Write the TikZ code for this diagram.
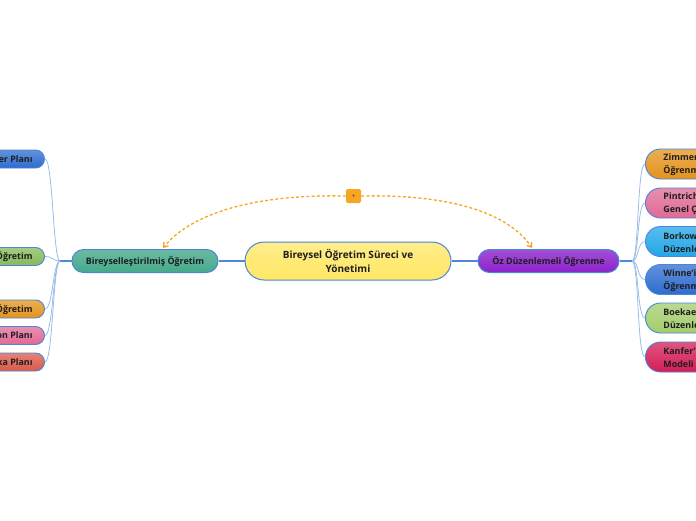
\documentclass[tikz,border=0pt]{standalone}
\usepackage{fontspec}
\setmainfont{Open Sans}
\usetikzlibrary{arrows.meta,calc}
\definecolor{bordc}{HTML}{4A86DB}
\definecolor{mainln}{HTML}{4D89DB}
\definecolor{childln}{HTML}{9BBCEB}
\definecolor{txt}{HTML}{1E1E1E}
\definecolor{dorange}{HTML}{F5A623}
\definecolor{cyel}{HTML}{FFE764}
\definecolor{cteal}{HTML}{45A98C}
\definecolor{cpurp}{HTML}{8B22CC}
\definecolor{cblue}{HTML}{2E6CCF}
\definecolor{cgreen}{HTML}{86B95A}
\definecolor{corange}{HTML}{E4931C}
\definecolor{cpink}{HTML}{E06A95}
\definecolor{cred}{HTML}{DA5A4A}
\definecolor{clblue}{HTML}{22A6E8}
\definecolor{clgreen}{HTML}{A3CD6C}
\definecolor{ccrim}{HTML}{D41C56}
\tikzset{
  x=1pt, y=-1pt,
  basefont/.style={font=\fontsize{8.9}{13}\selectfont\bfseries, text=txt},
  centralbox/.style={font=\fontsize{10}{14}\selectfont\bfseries, text=txt,
     draw=bordc, line width=1pt, rounded corners=19pt,
     minimum width=206pt, minimum height=38pt, align=center, inner sep=0pt,
     top color=#1!75!white, bottom color=#1},
  mainbox/.style={basefont, draw=bordc, line width=1pt, rounded corners=11.5pt,
     minimum height=23pt, inner sep=0pt, top color=#1!80!white, bottom color=#1},
  leafleft/.style={basefont, draw=bordc, line width=0.9pt, rounded corners=9pt,
     minimum height=18pt, inner ysep=0pt, inner xsep=12pt, anchor=east,
     top color=#1!75!white, bottom color=#1},
  leafright/.style={basefont, draw=bordc, line width=0.9pt, rounded corners=15pt,
     minimum height=30pt, inner ysep=0pt, inner xsep=18pt, anchor=west, align=left,
     top color=#1!75!white, bottom color=#1},
  mainline/.style={draw=mainln, line width=1.2pt},
  childline/.style={draw=childln, line width=0.8pt},
  dashline/.style={draw=dorange, line width=1.3pt, dash pattern=on 3pt off 2.2pt,
     -{Straight Barb[length=4pt,width=6pt]}},
  plusbox/.style={fill=dorange, rounded corners=2pt, minimum width=15pt,
     minimum height=14pt, inner sep=0pt, font=\fontsize{7}{7}\selectfont, text=txt!70!dorange}
}
\begin{document}
\begin{tikzpicture}
\useasboundingbox (0,0) rectangle (696,520);
\clip (0,0) rectangle (696,520);
% central and main nodes
\node[centralbox=cyel] (C) at (348,261) {Bireysel Öğretim Süreci ve\\Yönetimi};
\node[mainbox=cteal, minimum width=146pt] (L) at (145,261) {Bireyselleştirilmiş Öğretim};
\node[mainbox=cpurp, minimum width=141pt] (R) at (548.5,261) {Öz Düzenlemeli Öğrenme};
% left leaves
\node[leafleft=cblue]   (k1) at (45,159) {Keller Planı};
\node[leafleft=cgreen]  (k2) at (45,256.5) {Programlı Öğretim};
\node[leafleft=corange] (k3) at (45,309) {Bilgisayar Destekli Öğretim};
\node[leafleft=cpink]   (k4) at (45,335.5) {Dalton Planı};
\node[leafleft=cred]    (k5) at (45,362) {Winnetka Planı};
% right leaves
\node[leafright=corange] (z1) at (645,164) {Zimmerman'ın Öz Düzenlemeli\\Öğrenme Modeli};
\node[leafright=cpink]   (z2) at (645,203) {Pintrich'in Öz Düzenlemeli Öğrenme\\Genel Çerçevesi};
\node[leafright=clblue]  (z3) at (645,241.5) {Borkowski'nin Öz\\Düzenleme Modeli};
\node[leafright=cblue]   (z4) at (645,279.5) {Winne'in Öz Düzenlemeli\\Öğrenme Modeli};
\node[leafright=clgreen] (z5) at (645,318) {Boekaerts'in Öz\\Düzenleme Modeli};
\node[leafright=ccrim]   (z6) at (645,357) {Kanfer'in Öz Düzenleme\\Modeli};
% fan points
\coordinate (Lf) at (60,261);
\coordinate (Rf) at (632,261);
% main connectors
\draw[mainline] (C.west) -- (L.east);
\draw[mainline] (C.east) -- (R.west);
\draw[mainline] (L.west) -- (Lf);
\draw[mainline] (R.east) -- (Rf);
% child connectors
\foreach \n in {k1,k2,k3,k4,k5}
  \draw[childline] (\n.east) .. controls +(8,0) and +(-7,0) .. (Lf);
\foreach \n in {z1,z2,z3,z4,z5,z6}
  \draw[childline] (Rf) .. controls +(7,0) and +(-8,0) .. (\n.west);
% relation
\node[plusbox] (P) at (353.5,196) {+};
\draw[dashline] (P.west) .. controls (250,194) and (190,215) .. ($(L.north)+(18,-1)$);
\draw[dashline] (P.east) .. controls (455,194) and (510,215) .. ($(R.north)+(-16.5,-1)$);
\end{tikzpicture}
\end{document}
